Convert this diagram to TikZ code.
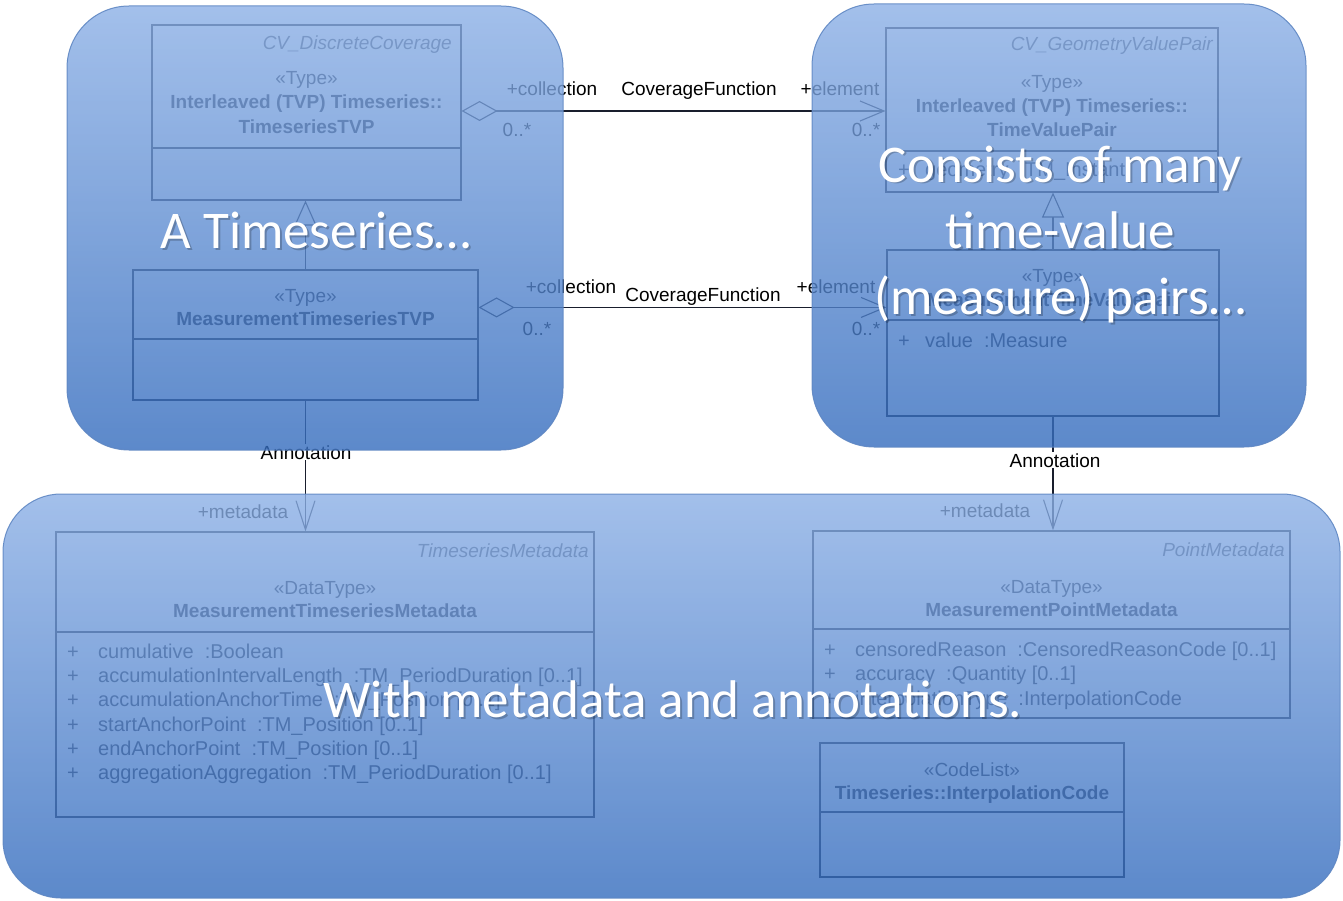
\documentclass[tikz,border=0pt]{standalone}
\usepackage{fontspec}
\setmainfont{Liberation Sans}
\newfontfamily\bigfont{Carlito}
\usetikzlibrary{arrows.meta,calc}
\definecolor{ink}{RGB}{25,30,45}
\definecolor{ovtop}{RGB}{140,176,230}
\definecolor{ovbot}{RGB}{52,108,190}
\definecolor{ovedge}{RGB}{95,135,195}
\newcommand{\sep}{\hspace{11pt}}
\begin{document}
\begin{tikzpicture}[x=1pt,y=-1pt,
  umlbox/.style={draw=ink, line width=1.1pt, fill=white, rectangle, inner sep=0pt},
  txt/.style={font=\fontsize{19}{22}\selectfont, text=ink, inner sep=0pt, anchor=base},
  bold/.style={txt, font=\fontsize{19}{22}\selectfont\bfseries},
  ital/.style={txt, font=\fontsize{19}{22}\selectfont\itshape, anchor=base east, text=ink!80},
  attr/.style={txt, font=\fontsize{20}{22}\selectfont, anchor=base west},
  lbl/.style={txt, text=black},
  conn/.style={draw=ink, line width=1.1pt},
  overlay/.style={top color=ovtop, bottom color=ovbot, fill opacity=0.8, draw=ovedge, draw opacity=0.9, line width=1pt, rounded corners=62pt},
  bigtxt/.style={font=\bigfont\fontsize{53}{66}\selectfont, text=white, inner sep=0pt, anchor=base, align=center},
  bigshadow/.style={bigtxt, text=black, text opacity=0.22}
]
\path[use as bounding box, fill=white] (0,0) rectangle (1343,901);

% ---------- UML boxes ----------
\node[umlbox, minimum width=309pt, minimum height=175pt] (A) at (306.5,112.5) {};
\draw[ink, line width=1.1pt] (A.west |- 0,148) -- (A.east |- 0,148);
\node[ital] at (452,50) {CV\_DiscreteCoverage};
\node[txt] at (306.5,85) {«Type»};
\node[bold] at (306.5,109) {Interleaved (TVP) Timeseries::};
\node[bold] at (306.5,134) {TimeseriesTVP};

\node[umlbox, minimum width=345pt, minimum height=130pt] (B) at (305.5,335) {};
\draw[ink, line width=1.1pt] (B.west |- 0,339) -- (B.east |- 0,339);
\node[txt] at (305.5,302) {«Type»};
\node[bold] at (305.5,325) {MeasurementTimeseriesTVP};

\node[umlbox, minimum width=332pt, minimum height=164pt] (C) at (1052,110) {};
\draw[ink, line width=1.1pt] (C.west |- 0,151) -- (C.east |- 0,151);
\node[ital] at (1213,51) {CV\_GeometryValuePair};
\node[txt] at (1052,89) {«Type»};
\node[bold] at (1052,113) {Interleaved (TVP) Timeseries::};
\node[bold] at (1052,137) {TimeValuePair};
\node[attr] at (898,177) {+};
\node[attr] at (925,177) {geometry\sep:TM\_Instant};

\node[umlbox, minimum width=332pt, minimum height=166pt] (D) at (1053,333) {};
\draw[ink, line width=1.1pt] (D.west |- 0,320) -- (D.east |- 0,320);
\node[txt] at (1053,282) {«Type»};
\node[bold] at (1053,306) {MeasurementTimeValuePair};
\node[attr] at (898,347) {+};
\node[attr] at (925,347) {value\sep:Measure};

\node[umlbox, minimum width=538pt, minimum height=285pt] (E) at (325,674.5) {};
\draw[ink, line width=1.1pt] (E.west |- 0,632) -- (E.east |- 0,632);
\node[ital] at (589,557) {TimeseriesMetadata};
\node[txt] at (325,594) {«DataType»};
\node[bold] at (325,617) {MeasurementTimeseriesMetadata};
\foreach \yy/\tt in {658/cumulative\sep:Boolean,
  682/accumulationIntervalLength\sep:TM\_PeriodDuration [0..1],
  706/accumulationAnchorTime\sep:TM\_Position [0..1],
  731/startAnchorPoint\sep:TM\_Position [0..1],
  755/endAnchorPoint\sep:TM\_Position [0..1],
  779/aggregationAggregation\sep:TM\_PeriodDuration [0..1]}{
  \node[attr] at (67,\yy) {+};
  \node[attr] at (98,\yy) {\tt};
}

\node[umlbox, minimum width=477pt, minimum height=187pt] (F) at (1051.5,624.5) {};
\draw[ink, line width=1.1pt] (F.west |- 0,629) -- (F.east |- 0,629);
\node[ital] at (1285,556) {PointMetadata};
\node[txt] at (1051.5,593) {«DataType»};
\node[bold] at (1051.5,616) {MeasurementPointMetadata};
\foreach \yy/\tt in {656/censoredReason\sep:CensoredReasonCode [0..1],
  680/accuracy\sep:Quantity [0..1],
  705/interpolationType\sep:InterpolationCode}{
  \node[attr] at (824,\yy) {+};
  \node[attr] at (855,\yy) {\tt};
}

\node[umlbox, minimum width=304pt, minimum height=134pt] (G) at (972,810) {};
\draw[ink, line width=1.1pt] (G.west |- 0,812) -- (G.east |- 0,812);
\node[txt] at (972,776) {«CodeList»};
\node[bold] at (972,799) {Timeseries::InterpolationCode};

% ---------- connectors ----------
\coordinate (Aagg) at ([yshift=1.5pt]A.east);
\draw[conn, {Diamond[open, length=36pt, width=20pt]}-{Straight Barb[length=24pt, width=20pt]}]
  (Aagg) -- (Aagg -| C.west);
\coordinate (Bagg) at ([yshift=-38pt]B.north east);
\draw[conn, {Diamond[open, length=36pt, width=20pt]}-{Straight Barb[length=24pt, width=20pt]}]
  (Bagg) -- (Bagg -| D.west);
\draw[conn, -{Triangle[open, length=25pt, width=22pt]}] (B.north) -- (B.north |- A.south);
\draw[conn, -{Triangle[open, length=25pt, width=22pt]}] (D.north) -- (D.north |- C.south);
\draw[conn, -{Straight Barb[length=29pt, width=19pt]}] (B.south) -- (B.south |- E.north);
\draw[conn, -{Straight Barb[length=29pt, width=19pt]}] (D.south) -- (D.south |- F.north);

% connector labels
\node[lbl] at (552,96) {+collection};
\node[lbl] at (699,96) {CoverageFunction};
\node[lbl] at (840,96) {+element};
\node[lbl] at (517,137) {0..*};
\node[lbl] at (866,137) {0..*};
\node[lbl] at (571,294) {+collection};
\node[lbl] at (703,301) {CoverageFunction};
\node[lbl] at (836,294) {+element};
\node[lbl] at (537,335) {0..*};
\node[lbl] at (866,335) {0..*};
\node[lbl, fill=white, inner sep=1pt] at (306,459) {Annotation};
\node[lbl, fill=white, inner sep=1pt] at (1055,467) {Annotation};
\node[lbl] at (243,518) {+metadata};
\node[lbl] at (985,517) {+metadata};

% ---------- translucent overlays ----------
\path[overlay] (67,6) rectangle (563,450);
\path[overlay] (812,4) rectangle (1306,447);
\path[overlay, rounded corners=58pt] (3,494) rectangle (1340,898);

% ---------- big captions ----------
\node[bigshadow] at (318,251) {A Timeseries…};
\node[bigtxt] (cap1) at (316,249) {A Timeseries…};
\node[bigshadow] at (1062,316) {Consists of many\\time-value\\(measure) pairs…};
\node[bigtxt] (cap2) at (1060,314) {Consists of many\\time-value\\(measure) pairs…};
\node[bigshadow] at (675,719) {With metadata and annotations.};
\node[bigtxt] (cap3) at (673,717) {With metadata and annotations.};
\end{tikzpicture}
\end{document}
